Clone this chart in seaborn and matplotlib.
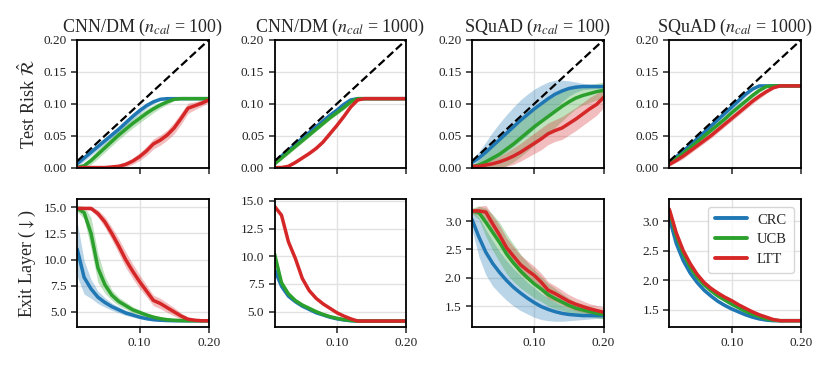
# %%
import pandas as pd
import numpy as np
import seaborn as sns
import matplotlib.pyplot as plt

# %%
# Risk control vs exit layer, CNN/DM and SQuAD

alpha = [0.01, 0.02, 0.03, 0.04, 0.05, 0.06, 0.07, 0.08, 0.09, 0.10,
         0.11, 0.12, 0.13, 0.14, 0.15, 0.16, 0.17, 0.18, 0.19, 0.20]
methods = ["CRC", "UCB", "LTT"]
titles = [r"CNN/DM ($n_{cal}$ = 100)", r"CNN/DM ($n_{cal}$ = 1000)",
          r"SQuAD ($n_{cal}$ = 100)", r"SQuAD ($n_{cal}$ = 1000)"]

# --- test risk (mean, half width of band) ---
cnn100_risk_crc = [0.006, 0.015, 0.024, 0.033, 0.042, 0.051, 0.060, 0.070, 0.080, 0.089,
                   0.097, 0.103, 0.107, 0.108, 0.108, 0.108, 0.108, 0.108, 0.108, 0.108]
cnn100_risk_ucb = [0.000, 0.003, 0.011, 0.021, 0.031, 0.041, 0.051, 0.060, 0.069, 0.077,
                   0.085, 0.092, 0.098, 0.103, 0.107, 0.108, 0.108, 0.108, 0.108, 0.108]
cnn100_risk_ltt = [0.000, 0.000, 0.000, 0.000, 0.000, 0.001, 0.002, 0.005, 0.010, 0.017,
                   0.026, 0.037, 0.043, 0.051, 0.062, 0.077, 0.093, 0.097, 0.101, 0.106]
cnn100_risk_crc_sd = [0.005, 0.005, 0.005, 0.005, 0.005, 0.005, 0.005, 0.005, 0.005, 0.005,
                      0.004, 0.003, 0.002, 0.001, 0.001, 0.001, 0.001, 0.001, 0.001, 0.001]
cnn100_risk_ucb_sd = [0.001, 0.004, 0.006, 0.007, 0.007, 0.007, 0.007, 0.007, 0.007, 0.007,
                      0.007, 0.006, 0.005, 0.004, 0.002, 0.001, 0.001, 0.001, 0.001, 0.001]
cnn100_risk_ltt_sd = [0.000, 0.000, 0.000, 0.001, 0.002, 0.002, 0.003, 0.004, 0.005, 0.006,
                      0.007, 0.008, 0.008, 0.008, 0.009, 0.009, 0.008, 0.006, 0.005, 0.004]

cnn1000_risk_crc = [0.009, 0.018, 0.027, 0.036, 0.046, 0.055, 0.064, 0.073, 0.082, 0.090,
                    0.099, 0.106, 0.108, 0.108, 0.108, 0.108, 0.108, 0.108, 0.108, 0.108]
cnn1000_risk_ucb = [0.006, 0.015, 0.024, 0.033, 0.042, 0.051, 0.060, 0.069, 0.078, 0.086,
                    0.094, 0.103, 0.108, 0.108, 0.108, 0.108, 0.108, 0.108, 0.108, 0.108]
cnn1000_risk_ltt = [0.000, 0.000, 0.002, 0.008, 0.015, 0.022, 0.030, 0.040, 0.053, 0.066,
                    0.080, 0.095, 0.106, 0.108, 0.108, 0.108, 0.108, 0.108, 0.108, 0.108]
cnn1000_risk_crc_sd = [0.003, 0.003, 0.003, 0.003, 0.003, 0.003, 0.003, 0.003, 0.003, 0.003,
                       0.003, 0.002, 0.001, 0.001, 0.001, 0.001, 0.001, 0.001, 0.001, 0.001]
cnn1000_risk_ucb_sd = [0.003, 0.003, 0.003, 0.003, 0.003, 0.003, 0.003, 0.003, 0.003, 0.003,
                       0.003, 0.003, 0.002, 0.001, 0.001, 0.001, 0.001, 0.001, 0.001, 0.001]
cnn1000_risk_ltt_sd = [0.000, 0.000, 0.001, 0.002, 0.002, 0.002, 0.002, 0.002, 0.002, 0.002,
                       0.002, 0.002, 0.002, 0.001, 0.001, 0.001, 0.001, 0.001, 0.001, 0.001]

squad100_risk_crc = [0.008, 0.015, 0.024, 0.034, 0.044, 0.054, 0.064, 0.074, 0.083, 0.092,
                     0.100, 0.108, 0.115, 0.120, 0.124, 0.126, 0.127, 0.127, 0.127, 0.127]
squad100_risk_ucb = [0.001, 0.004, 0.009, 0.015, 0.021, 0.029, 0.037, 0.046, 0.055, 0.064,
                     0.072, 0.080, 0.088, 0.096, 0.103, 0.109, 0.113, 0.116, 0.119, 0.121]
squad100_risk_ltt = [0.002, 0.002, 0.004, 0.006, 0.009, 0.013, 0.018, 0.024, 0.031, 0.038,
                     0.045, 0.053, 0.058, 0.062, 0.069, 0.076, 0.084, 0.092, 0.099, 0.110]
squad100_risk_crc_sd = [0.005, 0.010, 0.016, 0.022, 0.026, 0.029, 0.031, 0.032, 0.032, 0.031,
                        0.029, 0.026, 0.022, 0.017, 0.012, 0.008, 0.005, 0.004, 0.003, 0.003]
squad100_risk_ucb_sd = [0.002, 0.008, 0.014, 0.019, 0.023, 0.026, 0.028, 0.029, 0.029, 0.029,
                        0.028, 0.027, 0.025, 0.023, 0.020, 0.017, 0.015, 0.014, 0.013, 0.013]
squad100_risk_ltt_sd = [0.002, 0.003, 0.005, 0.007, 0.009, 0.011, 0.013, 0.014, 0.015, 0.016,
                        0.017, 0.017, 0.017, 0.018, 0.018, 0.018, 0.018, 0.018, 0.017, 0.016]

squad1000_risk_crc = [0.009, 0.017, 0.026, 0.035, 0.045, 0.055, 0.065, 0.075, 0.085, 0.095,
                      0.105, 0.115, 0.123, 0.128, 0.128, 0.128, 0.128, 0.128, 0.128, 0.128]
squad1000_risk_ucb = [0.007, 0.014, 0.022, 0.031, 0.040, 0.049, 0.058, 0.067, 0.076, 0.086,
                      0.095, 0.104, 0.113, 0.121, 0.127, 0.128, 0.128, 0.128, 0.128, 0.128]
squad1000_risk_ltt = [0.005, 0.011, 0.018, 0.026, 0.034, 0.042, 0.050, 0.059, 0.068, 0.077,
                      0.086, 0.095, 0.104, 0.112, 0.119, 0.125, 0.128, 0.128, 0.128, 0.128]
squad1000_risk_crc_sd = [0.003, 0.004, 0.004, 0.005, 0.005, 0.005, 0.005, 0.005, 0.005, 0.005,
                         0.005, 0.004, 0.003, 0.001, 0.001, 0.001, 0.001, 0.001, 0.001, 0.001]
squad1000_risk_ucb_sd = [0.003, 0.003, 0.004, 0.004, 0.004, 0.004, 0.004, 0.004, 0.004, 0.004,
                         0.004, 0.004, 0.004, 0.003, 0.002, 0.001, 0.001, 0.001, 0.001, 0.001]
squad1000_risk_ltt_sd = [0.003, 0.003, 0.004, 0.004, 0.004, 0.004, 0.004, 0.004, 0.004, 0.004,
                         0.004, 0.004, 0.004, 0.004, 0.003, 0.002, 0.001, 0.001, 0.001, 0.001]

# --- exit layer (mean, half width of band) ---
cnn100_exit_crc = [11.0, 8.3, 7.2, 6.4, 5.9, 5.5, 5.2, 4.9, 4.7, 4.5,
                   4.35, 4.25, 4.2, 4.17, 4.15, 4.15, 4.15, 4.15, 4.15, 4.15]
cnn100_exit_ucb = [14.9, 14.5, 12.5, 9.2, 7.6, 6.6, 6.0, 5.6, 5.2, 4.95,
                   4.7, 4.5, 4.35, 4.25, 4.2, 4.17, 4.15, 4.15, 4.15, 4.15]
cnn100_exit_ltt = [14.9, 14.9, 14.9, 14.4, 13.6, 12.5, 11.3, 10.0, 8.9, 7.9,
                   7.0, 6.1, 5.8, 5.4, 5.0, 4.6, 4.3, 4.2, 4.15, 4.15]
cnn100_exit_crc_sd = [2.6, 1.6, 0.9, 0.6, 0.45, 0.35, 0.3, 0.25, 0.2, 0.15,
                      0.12, 0.1, 0.08, 0.05, 0.03, 0.02, 0.02, 0.02, 0.02, 0.02]
cnn100_exit_ucb_sd = [0.3, 0.6, 1.5, 1.4, 0.8, 0.5, 0.4, 0.35, 0.3, 0.25,
                      0.2, 0.15, 0.1, 0.07, 0.05, 0.03, 0.02, 0.02, 0.02, 0.02]
cnn100_exit_ltt_sd = [0.1, 0.1, 0.2, 0.35, 0.5, 0.6, 0.7, 0.75, 0.7, 0.65,
                      0.55, 0.5, 0.5, 0.45, 0.4, 0.3, 0.2, 0.1, 0.05, 0.05]

cnn1000_exit_crc = [8.8, 7.3, 6.4, 5.9, 5.5, 5.2, 4.9, 4.7, 4.5, 4.35,
                    4.25, 4.18, 4.15, 4.15, 4.15, 4.15, 4.15, 4.15, 4.15, 4.15]
cnn1000_exit_ucb = [10.2, 7.6, 6.6, 6.0, 5.6, 5.3, 5.0, 4.75, 4.55, 4.4,
                    4.28, 4.2, 4.15, 4.15, 4.15, 4.15, 4.15, 4.15, 4.15, 4.15]
cnn1000_exit_ltt = [14.5, 13.7, 11.3, 9.8, 8.0, 6.9, 6.2, 5.7, 5.3, 4.9,
                    4.6, 4.35, 4.15, 4.15, 4.15, 4.15, 4.15, 4.15, 4.15, 4.15]
cnn1000_exit_crc_sd = [0.4, 0.3, 0.2, 0.15, 0.12, 0.1, 0.1, 0.08, 0.06, 0.05,
                       0.04, 0.03, 0.02, 0.02, 0.02, 0.02, 0.02, 0.02, 0.02, 0.02]
cnn1000_exit_ucb_sd = [0.4, 0.3, 0.2, 0.15, 0.12, 0.1, 0.1, 0.08, 0.06, 0.05,
                       0.04, 0.03, 0.02, 0.02, 0.02, 0.02, 0.02, 0.02, 0.02, 0.02]
cnn1000_exit_ltt_sd = [0.1, 0.15, 0.15, 0.15, 0.12, 0.1, 0.08, 0.06, 0.05, 0.05,
                       0.04, 0.03, 0.02, 0.02, 0.02, 0.02, 0.02, 0.02, 0.02, 0.02]

squad100_exit_crc = [3.03, 2.72, 2.45, 2.25, 2.09, 1.95, 1.83, 1.73, 1.64, 1.56,
                     1.49, 1.44, 1.40, 1.37, 1.35, 1.34, 1.33, 1.33, 1.33, 1.33]
squad100_exit_ucb = [3.18, 3.15, 2.98, 2.80, 2.62, 2.42, 2.26, 2.12, 2.00, 1.89,
                     1.80, 1.70, 1.63, 1.57, 1.51, 1.46, 1.43, 1.40, 1.37, 1.35]
squad100_exit_ltt = [3.18, 3.18, 3.16, 2.95, 2.75, 2.53, 2.38, 2.23, 2.13, 2.04,
                     1.92, 1.78, 1.72, 1.65, 1.58, 1.53, 1.49, 1.45, 1.42, 1.39]
squad100_exit_crc_sd = [0.18, 0.35, 0.40, 0.40, 0.37, 0.35, 0.33, 0.31, 0.28, 0.26,
                        0.23, 0.20, 0.17, 0.14, 0.11, 0.09, 0.07, 0.06, 0.05, 0.05]
squad100_exit_ucb_sd = [0.05, 0.12, 0.25, 0.32, 0.35, 0.35, 0.33, 0.30, 0.27, 0.25,
                        0.22, 0.20, 0.18, 0.15, 0.13, 0.11, 0.10, 0.09, 0.08, 0.08]
squad100_exit_ltt_sd = [0.03, 0.08, 0.12, 0.15, 0.17, 0.17, 0.17, 0.17, 0.17, 0.16,
                        0.16, 0.15, 0.14, 0.13, 0.12, 0.11, 0.10, 0.09, 0.09, 0.09]

squad1000_exit_crc = [3.05, 2.62, 2.33, 2.12, 1.96, 1.83, 1.73, 1.64, 1.57, 1.51,
                      1.46, 1.41, 1.37, 1.34, 1.32, 1.31, 1.31, 1.31, 1.31, 1.31]
squad1000_exit_ucb = [3.17, 2.75, 2.45, 2.22, 2.05, 1.92, 1.82, 1.73, 1.66, 1.59,
                      1.53, 1.47, 1.42, 1.38, 1.34, 1.32, 1.31, 1.31, 1.31, 1.31]
squad1000_exit_ltt = [3.20, 2.80, 2.50, 2.28, 2.10, 1.96, 1.86, 1.78, 1.71, 1.65,
                      1.58, 1.52, 1.46, 1.41, 1.37, 1.33, 1.31, 1.31, 1.31, 1.31]
squad1000_exit_crc_sd = [0.08, 0.06, 0.05, 0.05, 0.04, 0.04, 0.04, 0.03, 0.03, 0.03,
                         0.03, 0.02, 0.02, 0.02, 0.01, 0.01, 0.01, 0.01, 0.01, 0.01]
squad1000_exit_ucb_sd = [0.07, 0.05, 0.04, 0.04, 0.03, 0.03, 0.03, 0.03, 0.02, 0.02,
                         0.02, 0.02, 0.02, 0.01, 0.01, 0.01, 0.01, 0.01, 0.01, 0.01]
squad1000_exit_ltt_sd = [0.07, 0.05, 0.04, 0.04, 0.03, 0.03, 0.03, 0.03, 0.02, 0.02,
                         0.02, 0.02, 0.02, 0.01, 0.01, 0.01, 0.01, 0.01, 0.01, 0.01]

risk_panels = [
    (cnn100_risk_crc, cnn100_risk_ucb, cnn100_risk_ltt,
     cnn100_risk_crc_sd, cnn100_risk_ucb_sd, cnn100_risk_ltt_sd),
    (cnn1000_risk_crc, cnn1000_risk_ucb, cnn1000_risk_ltt,
     cnn1000_risk_crc_sd, cnn1000_risk_ucb_sd, cnn1000_risk_ltt_sd),
    (squad100_risk_crc, squad100_risk_ucb, squad100_risk_ltt,
     squad100_risk_crc_sd, squad100_risk_ucb_sd, squad100_risk_ltt_sd),
    (squad1000_risk_crc, squad1000_risk_ucb, squad1000_risk_ltt,
     squad1000_risk_crc_sd, squad1000_risk_ucb_sd, squad1000_risk_ltt_sd),
]
exit_panels = [
    (cnn100_exit_crc, cnn100_exit_ucb, cnn100_exit_ltt,
     cnn100_exit_crc_sd, cnn100_exit_ucb_sd, cnn100_exit_ltt_sd),
    (cnn1000_exit_crc, cnn1000_exit_ucb, cnn1000_exit_ltt,
     cnn1000_exit_crc_sd, cnn1000_exit_ucb_sd, cnn1000_exit_ltt_sd),
    (squad100_exit_crc, squad100_exit_ucb, squad100_exit_ltt,
     squad100_exit_crc_sd, squad100_exit_ucb_sd, squad100_exit_ltt_sd),
    (squad1000_exit_crc, squad1000_exit_ucb, squad1000_exit_ltt,
     squad1000_exit_crc_sd, squad1000_exit_ucb_sd, squad1000_exit_ltt_sd),
]

# %%
sns.set_style("whitegrid", {
    "axes.edgecolor": "black",
    "grid.color": "#e2e2e2",
    "xtick.bottom": True,
    "ytick.left": True,
})
plt.rcParams['font.family'] = ['Liberation Serif', 'DejaVu Serif']
plt.rcParams['mathtext.fontset'] = 'stix'
plt.rcParams['axes.linewidth'] = 1.3
plt.rcParams['grid.linewidth'] = 1.0
plt.rcParams['xtick.major.width'] = 1.1
plt.rcParams['ytick.major.width'] = 1.1
plt.rcParams['xtick.major.size'] = 4
plt.rcParams['ytick.major.size'] = 4
plt.rcParams['xtick.labelsize'] = 9.5
plt.rcParams['ytick.labelsize'] = 9.5
plt.rcParams['xtick.color'] = '#222222'
plt.rcParams['ytick.color'] = '#222222'

palette = {"CRC": "#1f77b4", "UCB": "#2ca02c", "LTT": "#d62728"}


def draw_panel(ax, panel, legend=False):
    means = panel[:3]
    sds = panel[3:]
    df = pd.concat([pd.DataFrame({"alpha": alpha, "value": m, "method": name})
                    for name, m in zip(methods, means)], ignore_index=True)
    for name, m, s in zip(methods, means, sds):
        m = np.array(m)
        s = np.array(s)
        ax.fill_between(alpha, m - s, m + s, color=palette[name], alpha=0.3,
                        lw=0, zorder=1)
    sns.lineplot(data=df, x="alpha", y="value", hue="method", palette=palette,
                 linewidth=2.5, ax=ax, legend=legend, zorder=2)
    ax.set_xlim(0.01, 0.20)
    ax.set_xticks([0.10, 0.20])
    ax.set_xlabel(None)
    ax.set_ylabel(None)


fig, axes = plt.subplots(2, 4, figsize=(8.3, 3.7), dpi=100)
fig.subplots_adjust(left=0.093, right=0.965, top=0.892, bottom=0.116,
                    wspace=0.5, hspace=0.25)

for i in range(4):
    ax = axes[0, i]
    draw_panel(ax, risk_panels[i])
    ax.plot(alpha, alpha, color="black", ls="--", lw=1.6, zorder=3)
    ax.set_ylim(0, 0.20)
    ax.set_yticks([0.00, 0.05, 0.10, 0.15, 0.20])
    ax.yaxis.set_major_formatter(plt.FormatStrFormatter('%.2f'))
    ax.set_xticklabels([])
    ax.set_title(titles[i], fontsize=13)

    ax = axes[1, i]
    draw_panel(ax, exit_panels[i], legend=(i == 3))
    ax.xaxis.set_major_formatter(plt.FormatStrFormatter('%.2f'))

axes[1, 0].set_yticks([5.0, 7.5, 10.0, 12.5, 15.0])
axes[1, 1].set_yticks([5.0, 7.5, 10.0, 12.5, 15.0])
for ax in axes[1, :2]:
    ax.yaxis.set_major_formatter(plt.FormatStrFormatter('%.1f'))
for ax in axes[1, 2:]:
    ax.set_yticks([1.5, 2.0, 2.5, 3.0])
    ax.yaxis.set_major_formatter(plt.FormatStrFormatter('%.1f'))

axes[0, 0].set_ylabel(r"Test Risk $\hat{\mathcal{R}}$", fontsize=13)
axes[1, 0].set_ylabel(r"Exit Layer ($\downarrow$)", fontsize=13)

leg = axes[1, 3].legend(loc="upper right", fontsize=10.5, frameon=True,
                        handlelength=2.2, borderpad=0.45, labelspacing=0.45,
                        handletextpad=0.7)
leg.get_frame().set_edgecolor("#cccccc")
for line in leg.get_lines():
    line.set_linewidth(2.8)

plt.savefig("out.png", dpi=100)
